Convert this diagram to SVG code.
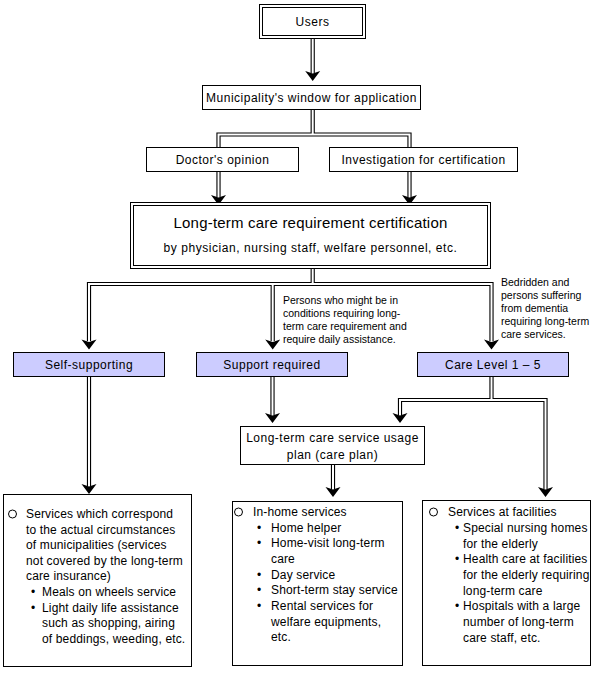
<svg xmlns="http://www.w3.org/2000/svg" width="595" height="673" viewBox="0 0 595 673">
<style>
text{font-family:"Liberation Sans",Arial,sans-serif;fill:#000}
.box{fill:#fff;stroke:#000;stroke-width:1}
.lvl{fill:#ccccff;stroke:#000;stroke-width:1}
.lbl{font-size:12px;letter-spacing:0.5px;text-anchor:middle}
.big{font-size:15px;letter-spacing:0.2px;text-anchor:middle}
.sub{font-size:12px;letter-spacing:0.55px;text-anchor:middle}
.note{font-size:10.5px}
.li{font-size:12px;letter-spacing:0.15px}
.cb{fill:none;stroke:#000;stroke-width:4.2}
.cw{fill:none;stroke:#fff;stroke-width:2}
.ah{fill:#000}
.circ{fill:#fff;stroke:#000;stroke-width:1}
</style>
<defs>
<path id="ah" d="M-7.5,-10 L0,-7.5 L7.5,-10 L0,0 Z"/>
</defs>

<g id="connectors">
<path class="cb" d="M312.7,39 V73 M312.7,109 V134.5 M218.5,147 V134.5 H409.5 V147 M218.5,171 V197 M409.5,171 V197 M312.7,268 V284 M89,341 V284 H491.5 V341 M272.7,284 V341 M89,377 V486 M272.5,377 V415 M491.5,377 V400 M400,415 V400 H545.5 V489 M333,465 V489"/>
<path class="cw" d="M312.7,39 V73 M312.7,109 V134.5 M218.5,147 V134.5 H409.5 V147 M218.5,171 V197 M409.5,171 V197 M312.7,268 V284 M89,341 V284 H491.5 V341 M272.7,284 V341 M89,377 V486 M272.5,377 V415 M491.5,377 V400 M400,415 V400 H545.5 V489 M333,465 V489"/>
<use href="#ah" class="ah" x="312.7" y="81"/>
<use href="#ah" class="ah" x="218.5" y="205"/>
<use href="#ah" class="ah" x="409.5" y="205"/>
<use href="#ah" class="ah" x="89" y="349.5"/>
<use href="#ah" class="ah" x="272.7" y="349.5"/>
<use href="#ah" class="ah" x="491.5" y="349.5"/>
<use href="#ah" class="ah" x="89" y="494"/>
<use href="#ah" class="ah" x="272.5" y="423"/>
<use href="#ah" class="ah" x="400" y="423"/>
<use href="#ah" class="ah" x="545.5" y="497"/>
<use href="#ah" class="ah" x="333" y="497"/>
</g>

<g id="users">
<rect class="box" x="259.5" y="4.5" width="106" height="34"/>
<rect class="box" x="262.5" y="7.5" width="100" height="28"/>
<text class="lbl" x="312.5" y="26">Users</text>
</g>

<g id="municipality">
<rect class="box" x="202.5" y="85.5" width="218" height="24"/>
<text class="lbl" x="311.5" y="102">Municipality's window for application</text>
</g>

<g id="doctor">
<rect class="box" x="146.5" y="147.5" width="152" height="24"/>
<text class="lbl" x="222.5" y="164">Doctor's opinion</text>
</g>

<g id="investigation">
<rect class="box" x="329.5" y="147.5" width="188" height="24"/>
<text class="lbl" x="423.5" y="164">Investigation for certification</text>
</g>

<g id="certification">
<rect class="box" x="130.5" y="202.5" width="360" height="66"/>
<rect class="box" x="133.5" y="205.5" width="354" height="60" style="fill:none"/>
<text class="big" x="310.5" y="227.5">Long-term care requirement certification</text>
<text class="sub" x="310.5" y="251.5">by physician, nursing staff, welfare personnel, etc.</text>
</g>

<g id="self-supporting">
<rect class="lvl" x="13.5" y="352.5" width="151" height="24"/>
<text class="lbl" x="89" y="369">Self-supporting</text>
</g>

<g id="support-required">
<rect class="lvl" x="196.5" y="352.5" width="151" height="24"/>
<text class="lbl" x="272" y="369">Support required</text>
</g>

<g id="care-level">
<rect class="lvl" x="417.5" y="352.5" width="151" height="24"/>
<text class="lbl" x="493" y="369">Care Level 1 – 5</text>
</g>

<g id="note-support">
<text class="note" x="283" y="304">Persons who might be in</text>
<text class="note" x="283" y="317">conditions requiring long-</text>
<text class="note" x="283" y="330">term care requirement and</text>
<text class="note" x="283" y="343">require daily assistance.</text>
</g>

<g id="note-care">
<text class="note" x="501" y="286">Bedridden and</text>
<text class="note" x="501" y="299">persons suffering</text>
<text class="note" x="501" y="312">from dementia</text>
<text class="note" x="501" y="325">requiring long-term</text>
<text class="note" x="501" y="338">care services.</text>
</g>

<g id="care-plan">
<rect class="box" x="240.5" y="426.5" width="184" height="38"/>
<text class="lbl" x="332.5" y="442">Long-term care service usage</text>
<text class="lbl" x="332.5" y="459">plan (care plan)</text>
</g>

<g id="municipal-services">
<rect class="box" x="3.5" y="494.5" width="188" height="172"/>
<circle class="circ" cx="12.5" cy="514" r="4"/>
<text class="li" x="26" y="518">Services which correspond</text>
<text class="li" x="26" y="534">to the actual circumstances</text>
<text class="li" x="26" y="549">of municipalities (services</text>
<text class="li" x="26" y="565">not covered by the long-term</text>
<text class="li" x="26" y="580">care insurance)</text>
<text class="li" x="31" y="596">•</text>
<text class="li" x="42" y="596">Meals on wheels service</text>
<text class="li" x="31" y="612">•</text>
<text class="li" x="42" y="612">Light daily life assistance</text>
<text class="li" x="42" y="627">such as shopping, airing</text>
<text class="li" x="42" y="643">of beddings, weeding, etc.</text>
</g>

<g id="in-home-services">
<rect class="box" x="232.5" y="501.5" width="170" height="164"/>
<circle class="circ" cx="238.5" cy="512" r="4"/>
<text class="li" x="253" y="516">In-home services</text>
<text class="li" x="257" y="532">•</text>
<text class="li" x="271" y="532">Home helper</text>
<text class="li" x="257" y="547">•</text>
<text class="li" x="271" y="547">Home-visit long-term</text>
<text class="li" x="271" y="563">care</text>
<text class="li" x="257" y="579">•</text>
<text class="li" x="271" y="579">Day service</text>
<text class="li" x="257" y="594">•</text>
<text class="li" x="271" y="594">Short-term stay service</text>
<text class="li" x="257" y="610">•</text>
<text class="li" x="271" y="610">Rental services for</text>
<text class="li" x="271" y="626">welfare equipments,</text>
<text class="li" x="271" y="641">etc.</text>
</g>

<g id="facility-services">
<rect class="box" x="422.5" y="500.5" width="168" height="165"/>
<circle class="circ" cx="433.5" cy="512" r="4"/>
<text class="li" x="448" y="516">Services at facilities</text>
<text class="li" x="455" y="532">•</text>
<text class="li" x="463" y="532">Special nursing homes</text>
<text class="li" x="463" y="548">for the elderly</text>
<text class="li" x="455" y="563">•</text>
<text class="li" x="463" y="563">Health care at facilities</text>
<text class="li" x="463" y="579">for the elderly requiring</text>
<text class="li" x="463" y="595">long-term care</text>
<text class="li" x="455" y="610">•</text>
<text class="li" x="463" y="610">Hospitals with a large</text>
<text class="li" x="463" y="626">number of long-term</text>
<text class="li" x="463" y="642">care staff, etc.</text>
</g>
</svg>
